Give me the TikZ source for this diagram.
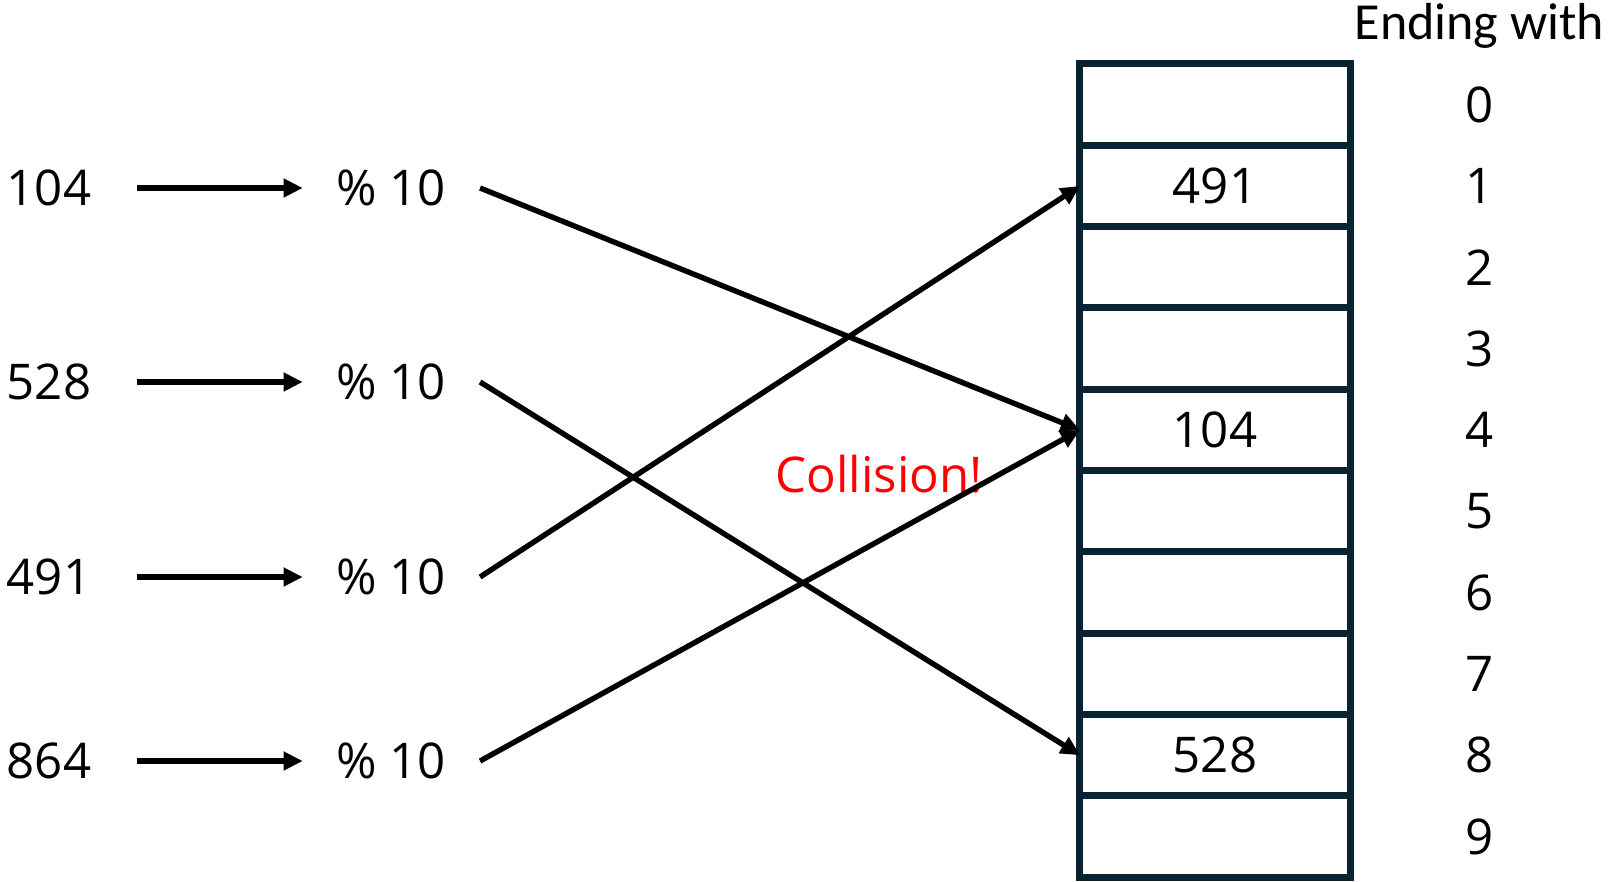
\documentclass[tikz,border=0pt]{standalone}
\usepackage{fontspec}
\setmainfont{Open Sans}
\newfontfamily\headfont{Carlito}
\usetikzlibrary{positioning, arrows.meta}
\definecolor{cellline}{RGB}{8,36,51}

\begin{document}
\begin{tikzpicture}[
    x=0.025cm, y=-0.025cm,
    every node/.style={inner sep=0pt, font=\fontsize{35}{42}\selectfont},
    cell/.style={rectangle, draw=cellline, line width=0.175cm, outer sep=0pt, minimum width=6.75cm, minimum height=2.0325cm},
    arrow/.style={-{Triangle[length=0.48cm, width=0.45cm]}, line width=0.135cm}
]
\useasboundingbox (0,0) rectangle (1608,881);

% Keys
\node (k104) at (49,188) {104};
\node (k528) at (49,382) {528};
\node (k491) at (49,577) {491};
\node (k864) at (49,761) {864};

% Modulo
\node (m104) at (391,188) {\% 10};
\node (m528) at (391,382) {\% 10};
\node (m491) at (391,577) {\% 10};
\node (m864) at (391,761) {\% 10};

% Table
\node (c0) [cell] at (1215,104.65) {};
\node (c1) [cell, below=0pt of c0] {491};
\node (c2) [cell, below=0pt of c1] {};
\node (c3) [cell, below=0pt of c2] {};
\node (c4) [cell, below=0pt of c3] {104};
\node (c5) [cell, below=0pt of c4] {};
\node (c6) [cell, below=0pt of c5] {};
\node (c7) [cell, below=0pt of c6] {};
\node (c8) [cell, below=0pt of c7] {528};
\node (c9) [cell, below=0pt of c8] {};

% Digits
\node (l0) [right=2.875cm of c0] {0};
\node (l1) [right=2.875cm of c1] {1};
\node (l2) [right=2.875cm of c2] {2};
\node (l3) [right=2.875cm of c3] {3};
\node (l4) [right=2.875cm of c4] {4};
\node (l5) [right=2.875cm of c5] {5};
\node (l6) [right=2.875cm of c6] {6};
\node (l7) [right=2.875cm of c7] {7};
\node (l8) [right=2.875cm of c8] {8};
\node (l9) [right=2.875cm of c9] {9};
\node (head) [above=0.95cm of l0, font=\headfont\fontsize{37}{44}\selectfont] {Ending with};

\node (clash) [text=red] at (879,474) {Collision!};

% Arrows
\draw [arrow, shorten <=1.14cm, shorten >=0.83cm] (k104) -- (m104);
\draw [arrow, shorten <=1.14cm, shorten >=0.83cm] (k528) -- (m528);
\draw [arrow, shorten <=1.14cm, shorten >=0.83cm] (k491) -- (m491);
\draw [arrow, shorten <=1.14cm, shorten >=0.83cm] (k864) -- (m864);

\draw [arrow] ([xshift=0.85cm]m104.east) -- (c4.west);
\draw [arrow] ([xshift=0.85cm]m528.east) -- (c8.west);
\draw [arrow] ([xshift=0.85cm]m491.east) -- (c1.west);
\draw [arrow] ([xshift=0.85cm]m864.east) -- (c4.west);

\end{tikzpicture}
\end{document}
